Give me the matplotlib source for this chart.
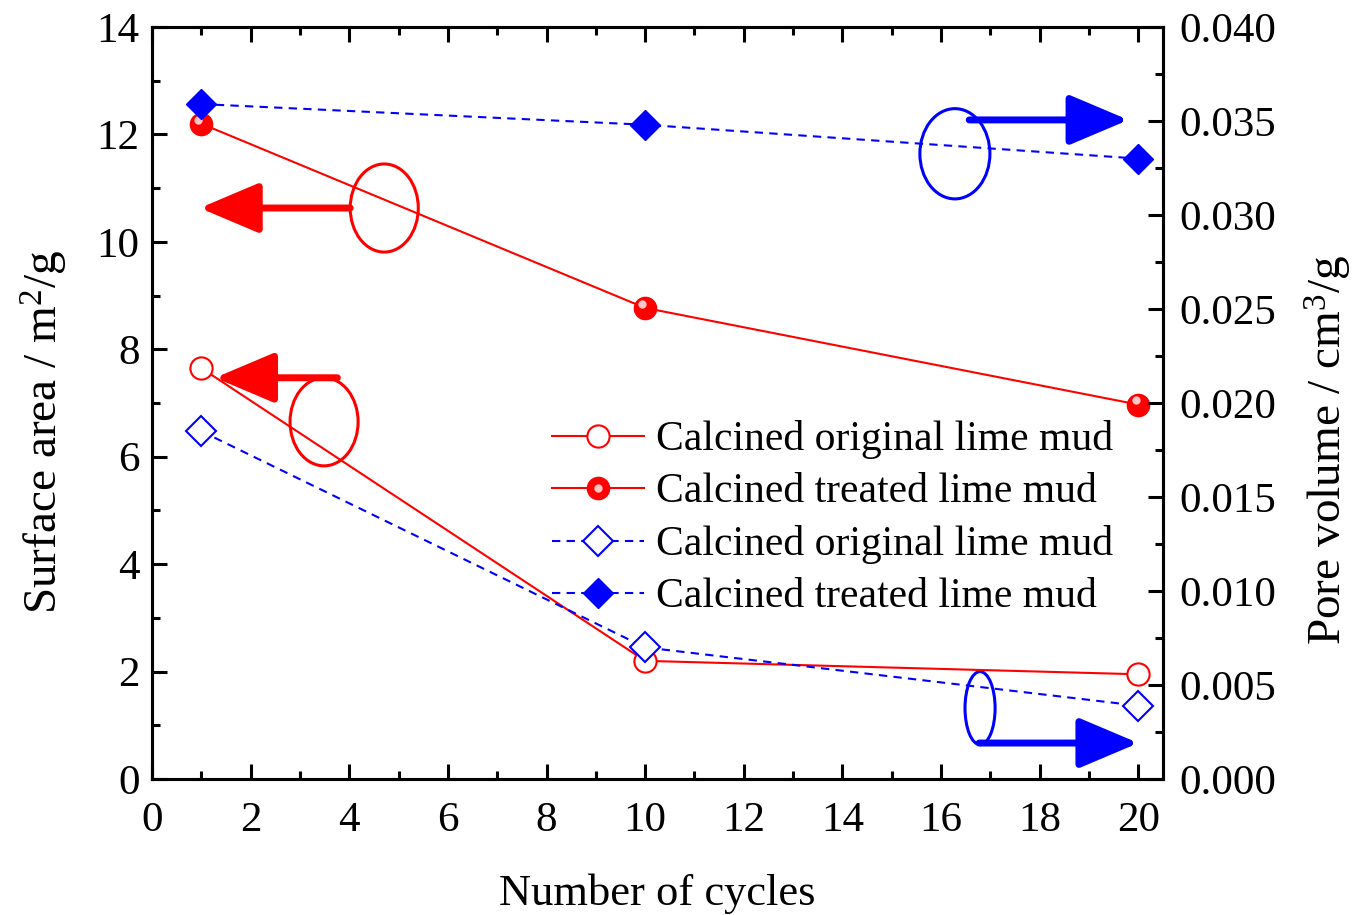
import matplotlib
matplotlib.use('Agg')
import matplotlib.pyplot as plt
from matplotlib.patches import Ellipse
from matplotlib.transforms import offset_copy
from matplotlib.legend_handler import HandlerTuple

# data
cycles = [1, 10, 20]
area_original = [7.65, 2.2, 1.95]      # m2/g, left axis
area_treated = [12.2, 8.77, 6.97]
pore_original = [0.0185, 0.0070, 0.0039]  # cm3/g, right axis
pore_treated = [0.0359, 0.0348, 0.0330]
label_original = 'Calcined original lime mud'
label_treated = 'Calcined treated lime mud'

plt.rcParams['font.family'] = ['Liberation Serif', 'DejaVu Serif']
plt.rcParams['mathtext.fontset'] = 'custom'
plt.rcParams['mathtext.rm'] = 'Liberation Serif'
plt.rcParams['mathtext.it'] = 'Liberation Serif:italic'
plt.rcParams['font.size'] = 31

fig = plt.figure(figsize=(13.53, 9.15), dpi=100)
ax = fig.add_axes([0.1123, 0.1486, 0.7473, 0.8219])
ax2 = ax.twinx()

red = '#ff0000'
blue = '#0000ff'

# surface area (left axis)
l1, = ax.plot(cycles, area_original, '-', color=red, lw=1.5, marker='o', ms=16,
              mfc='white', mec=red, mew=1.5, zorder=3)
l2, = ax.plot(cycles, area_treated, '-', color=red, lw=1.5, marker='o', ms=16,
              mfc=red, mec=red, zorder=3)
# little highlight on the filled balls
shine = offset_copy(ax.transData, fig=fig, x=-2, y=3, units='points')
hl, = ax.plot(cycles, area_treated, ls='none', marker='o', ms=6, mfc='#ffc8c8',
              mec='none', transform=shine, zorder=4)

# pore volume (right axis)
l3, = ax2.plot(cycles, pore_original, color=blue, lw=1.5, ls=(0, (4, 3)), marker='D',
               ms=15, mfc='white', mec=blue, mew=1.5, zorder=3)
l4, = ax2.plot(cycles, pore_treated, color=blue, lw=1.5, ls=(0, (4, 3)), marker='D',
               ms=15, mfc=blue, mec=blue, zorder=3)

ax.set_xlim(0, 20.5)
ax.set_ylim(0, 14)
ax2.set_ylim(0, 0.04)
ax.set_xticks(range(0, 21, 2))
ax.set_xticks(range(1, 21, 2), minor=True)
ax.set_yticks(range(0, 15, 2))
ax.set_yticks(range(1, 14, 2), minor=True)
ax2.set_yticks([i * 0.005 for i in range(9)])
ax2.set_yticks([0.0025 + i * 0.005 for i in range(8)], minor=True)
ax2.set_yticklabels(['%.3f' % (i * 0.005) for i in range(9)])

for a in (ax, ax2):
    for s in a.spines.values():
        s.set_linewidth(2.2)
ax.tick_params(which='both', direction='in', width=2.2, top=True, right=False, labelsize=31)
ax.tick_params(axis='x', which='both', pad=16)
ax.tick_params(axis='y', which='both', pad=9)
ax.tick_params(which='major', length=11)
ax.tick_params(which='minor', length=6)
ax2.tick_params(which='both', direction='in', width=2.2, labelsize=31, pad=12)
ax2.tick_params(which='major', length=11)
ax2.tick_params(which='minor', length=6)

ax.set_xlabel('Number of cycles', fontsize=32, labelpad=24)
ax.set_ylabel('Surface area / m$^{2}$/g', fontsize=34)
ax2.set_ylabel('Pore volume / cm$^{3}$/g', fontsize=34)
ax.yaxis.set_label_coords(-0.081, 0.461)
ax2.yaxis.set_label_coords(1.1385, 0.4375)

# ellipses and arrows pointing to the axes
ax.add_patch(Ellipse((4.71, 10.63), 1.38, 1.64, fill=False, ec=red, lw=2.2, zorder=2))
ax.add_patch(Ellipse((3.49, 6.65), 1.38, 1.64, fill=False, ec=red, lw=2.2, zorder=2))
ax.add_patch(Ellipse((16.28, 11.64), 1.42, 1.68, fill=False, ec=blue, lw=2.2, zorder=2))
ax.add_patch(Ellipse((16.79, 1.32), 0.61, 1.36, fill=False, ec=blue, lw=2.2, zorder=2))

arrow_red = dict(arrowstyle='-|>,head_length=1.3,head_width=0.55', color=red, lw=5,
                 mutation_scale=28, shrinkA=0, shrinkB=0)
arrow_blue = dict(arrowstyle='-|>,head_length=1.3,head_width=0.55', color=blue, lw=5,
                  mutation_scale=28, shrinkA=0, shrinkB=0)
ax.annotate('', xy=(0.97, 10.63), xytext=(4.02, 10.63), arrowprops=arrow_red)
ax.annotate('', xy=(1.28, 7.47), xytext=(3.76, 7.47), arrowprops=arrow_red)
ax.annotate('', xy=(19.8, 12.27), xytext=(16.57, 12.27), arrowprops=arrow_blue)
ax.annotate('', xy=(20.0, 0.67), xytext=(16.77, 0.67), arrowprops=arrow_blue)

ax2.legend([l1, (l2, hl), l3, l4], [label_original, label_treated, label_original, label_treated],
           handler_map={tuple: HandlerTuple(ndivide=1)},
           loc='upper left', bbox_to_anchor=(0.375, 0.505), frameon=False, borderpad=0,
           handlelength=2.2, handletextpad=0.3, labelspacing=0.33, fontsize=30)

fig.savefig('out.png', dpi=100)
